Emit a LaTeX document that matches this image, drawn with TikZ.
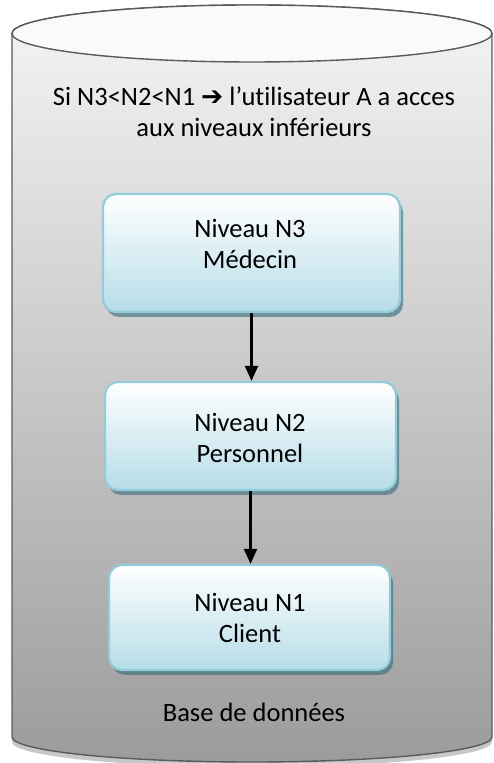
\documentclass[tikz,border=0pt]{standalone}
\usepackage{fontspec}
\setmainfont{Carlito}[Ligatures=NoCommon]
\newfontfamily\symfont{DejaVu Sans}
\usetikzlibrary{arrows.meta,shadows}
\definecolor{dbline}{HTML}{5A5A5A}
\definecolor{lvlborder}{HTML}{92CDDC}
\definecolor{lvlbottom}{HTML}{B6DDE8}
\definecolor{lvlshadow}{HTML}{3F6F7A}
\begin{document}
\begin{tikzpicture}[x=1pt,y=1pt,
  level/.style={draw=lvlborder, line width=2.2pt, rounded corners=13pt,
    top color=white, bottom color=lvlbottom,
    drop shadow={shadow xshift=3pt, shadow yshift=-5pt, fill=lvlshadow, opacity=0.65}},
  caption/.style={font=\fontsize{26.5}{31}\selectfont, align=center, text=black, inner sep=0pt},
  link/.style={line width=2.2pt, -{Triangle[width=13pt,length=15pt]}}]
\useasboundingbox (0,0) rectangle (493,763);

% soft shadow under the database cylinder
\fill[black!22] (12,21) arc[start angle=180, end angle=360, x radius=240, y radius=25]
  -- (492,30) -- (12,30) -- cycle;

% cylinder body
\path[top color=black!4, bottom color=black!39, draw=dbline, line width=1.4pt]
  (12,729.5) -- (12,26)
  arc[start angle=180, end angle=360, x radius=240, y radius=25]
  -- (492,729.5)
  arc[start angle=0, end angle=180, x radius=240, y radius=28.5] -- cycle;

% cylinder lid
\draw[fill=black!2, draw=dbline, line width=1.4pt] (252,729.5) ellipse[x radius=240, y radius=28.5];

% access rule
\node[caption] (rule) at (254,651)
  {Si N3<N2<N1 {\symfont\bfseries ➔} l’utilisateur A a acces\\aux niveaux inférieurs};

% access levels
\node[level, minimum width=297pt, minimum height=118pt] (n3) at (251.5,510) {};
\node[caption] (t3) at (250,519) {Niveau N3\\Médecin};

\node[level, minimum width=291pt, minimum height=108pt] (n2) at (250.5,327) {};
\node[caption] (t2) at (250,325) {Niveau N2\\Personnel};

\node[level, minimum width=281pt, minimum height=105pt] (n1) at (249.5,145.5) {};
\node[caption] (t1) at (250,145) {Niveau N1\\Client};

\node[caption] (db) at (254,51) {Base de données};

% inheritance arrows
\draw[link] (n3.south) -- (n3.south |- n2.north);
\draw[link] (n2.south) -- (n2.south |- n1.north);
\end{tikzpicture}
\end{document}
